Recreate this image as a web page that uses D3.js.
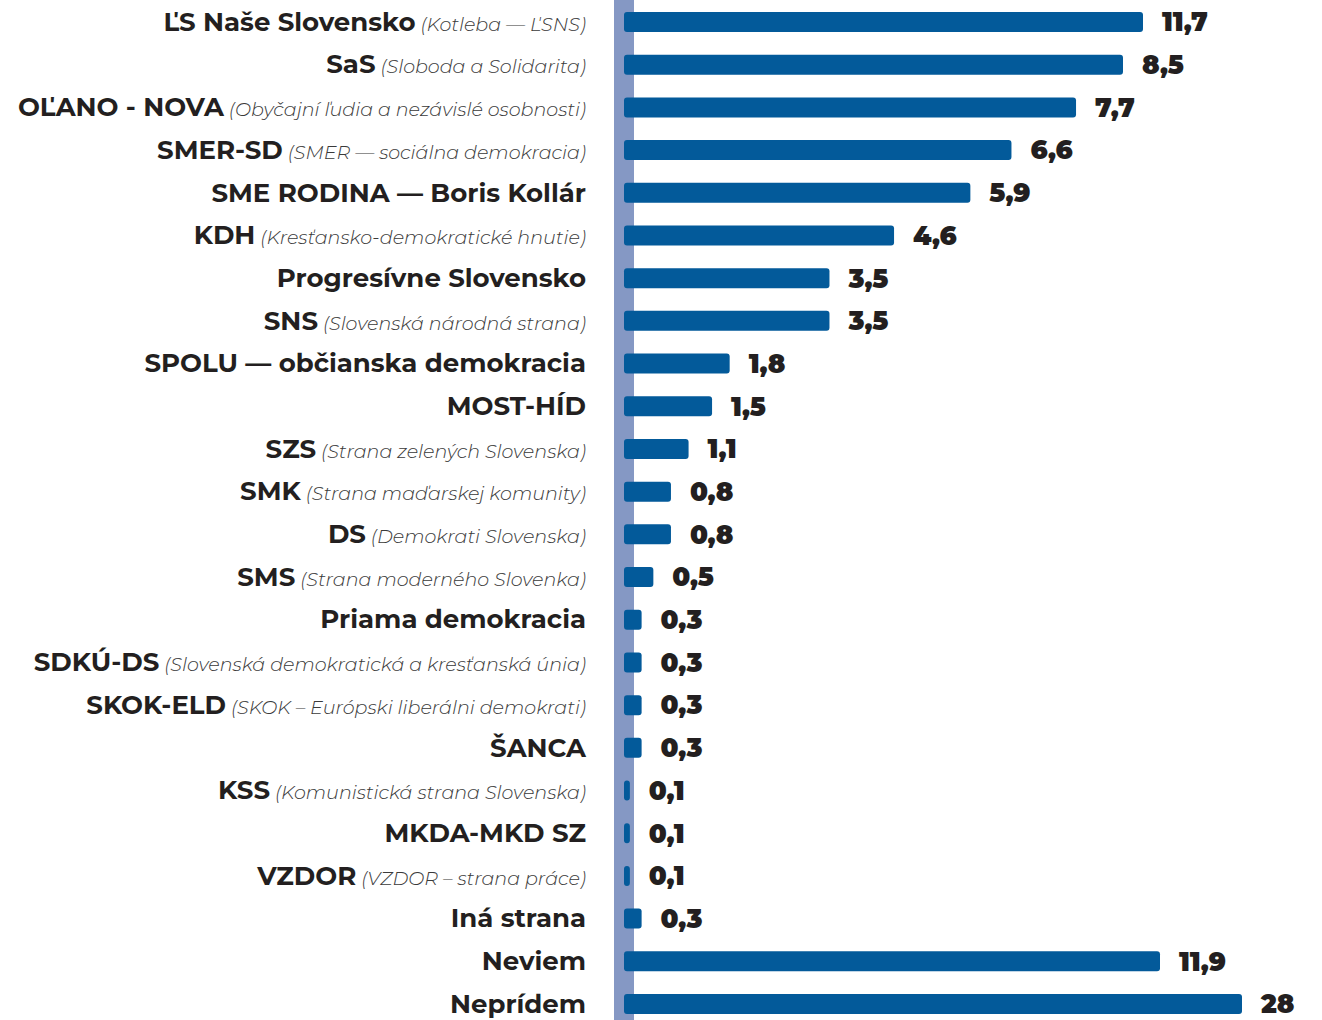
<!DOCTYPE html>
<html>
<head>
<meta charset="utf-8">
<script src="https://cdn.jsdelivr.net/npm/d3@7"></script>
<style>
  html, body { margin: 0; padding: 0; background: #ffffff; }
  svg { display: block; }
</style>
</head>
<body>
<svg id="chart" width="1322" height="1020"></svg>
<script>
const parties = [
  "ĽS Naše Slovensko", "SaS", "OĽANO - NOVA", "SMER-SD", "SME RODINA — Boris Kollár",
  "KDH", "Progresívne Slovensko", "SNS", "SPOLU — občianska demokracia", "MOST-HÍD",
  "SZS", "SMK", "DS", "SMS", "Priama demokracia", "SDKÚ-DS", "SKOK-ELD", "ŠANCA",
  "KSS", "MKDA-MKD SZ", "VZDOR", "Iná strana", "Neviem", "Neprídem"
];
const subtitles = [
  "(Kotleba — ĽSNS)", "(Sloboda a Solidarita)", "(Obyčajní ľudia a nezávislé osobnosti)",
  "(SMER — sociálna demokracia)", "", "(Kresťansko-demokratické hnutie)", "",
  "(Slovenská národná strana)", "", "", "(Strana zelených Slovenska)",
  "(Strana maďarskej komunity)", "(Demokrati Slovenska)", "(Strana moderného Slovenka)",
  "", "(Slovenská demokratická a kresťanská únia)", "(SKOK – Európski liberálni demokrati)",
  "", "(Komunistická strana Slovenska)", "", "(VZDOR – strana práce)", "", "", ""
];
const values = [11.7, 8.5, 7.7, 6.6, 5.9, 4.6, 3.5, 3.5, 1.8, 1.5, 1.1, 0.8, 0.8, 0.5,
  0.3, 0.3, 0.3, 0.3, 0.1, 0.1, 0.1, 0.3, 11.9, 28];
const valueLabels = ["11,7", "8,5", "7,7", "6,6", "5,9", "4,6", "3,5", "3,5", "1,8", "1,5",
  "1,1", "0,8", "0,8", "0,5", "0,3", "0,3", "0,3", "0,3", "0,1", "0,1", "0,1", "0,3", "11,9", "28"];

// The original chart compresses its largest bars; a piecewise scale reproduces that.
const scaleBreaks = [0, 8.5, 11.7, 11.9, 28];

const svg = d3.select("#chart");
const W = 1322, H = 1020;

const x = d3.scaleLinear()
  .domain(scaleBreaks)
  .range([624, 1123, 1143, 1160, 1242]);

const y = d3.scalePoint()
  .domain(parties)
  .range([22, 1004]);

const barH = 20;

// vertical axis band
svg.append("rect")
  .attr("x", 614).attr("y", 0)
  .attr("width", 20).attr("height", H)
  .attr("fill", "#8598c4");

const rows = parties.map((p, i) => ({ party: p, sub: subtitles[i], value: values[i], label: valueLabels[i] }));

svg.append("g").selectAll("rect")
  .data(rows)
  .join("rect")
  .attr("x", x(0))
  .attr("y", d => y(d.party) - barH / 2)
  .attr("width", d => x(d.value) - x(0))
  .attr("height", barH)
  .attr("rx", 3).attr("ry", 3)
  .attr("fill", "#035a9a");

const labels = svg.append("g").selectAll("text")
  .data(rows)
  .join("text")
  .attr("x", 586)
  .attr("y", d => y(d.party) + 3)
  .attr("dy", "0.36em")
  .attr("text-anchor", "end")
  .attr("fill", "#231f20");

labels.append("tspan")
  .attr("font-family", "Montserrat, 'DejaVu Sans', sans-serif")
  .attr("font-weight", 700)
  .attr("font-size", 26)
  .text(d => d.party);

labels.filter(d => d.sub).append("tspan")
  .attr("font-family", "Montserrat, 'Open Sans', sans-serif")
  .attr("font-weight", 300)
  .attr("font-style", "italic")
  .attr("font-size", 19.1)
  .attr("fill", "#3a3a3a")
  .text(d => " " + d.sub);

svg.append("g").selectAll("text")
  .data(rows)
  .join("text")
  .attr("x", d => x(d.value) + 19)
  .attr("y", d => y(d.party))
  .attr("dy", "0.36em")
  .attr("font-family", "Montserrat, Lato, Inter, sans-serif")
  .attr("font-weight", 900)
  .attr("font-size", 26)
  .attr("fill", "#231f20")
  .text(d => d.label);
</script>
</body>
</html>
